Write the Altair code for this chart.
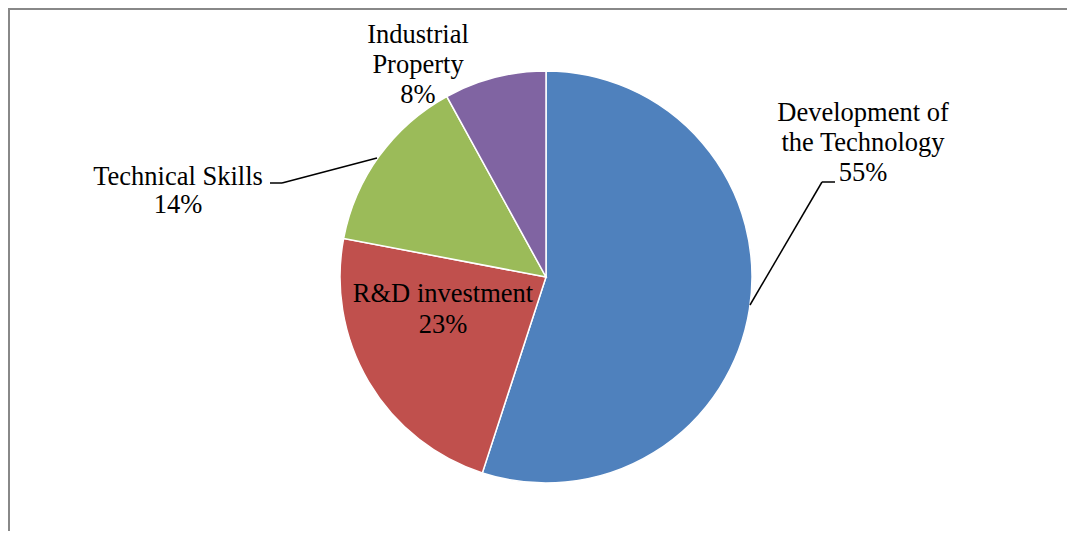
import altair as alt
import pandas as pd

# ---- data ----
categories = ["Development of the Technology", "R&D investment", "Technical Skills", "Industrial Property"]
values = [55, 23, 14, 8]
label_lines = [["Development of", "the Technology"], ["R&D investment"], ["Technical Skills"], ["Industrial", "Property"]]
colors = ["#4F81BD", "#C0504D", "#9BBB59", "#8064A2"]

# ---- layout (chart-pixel coordinates, separate from data) ----
W, H = 1055, 519
CX, CY, R = 536, 267, 206
FONT = "Liberation Serif"
FS = 26.5
label_pos = {  # x (center), y (first baseline), line height
    "Development of the Technology": (853, 111, 30),
    "R&D investment": (433, 292, 31),
    "Technical Skills": (168, 175, 28),
    "Industrial Property": (408, 33, 30),
}
leaders = [
    [(740, 295), (812, 172), (825, 172)],
    [(260, 173), (272, 173), (367, 148)],
]

df = pd.DataFrame({"category": categories, "value": values, "idx": list(range(len(values)))})

pie = alt.Chart(df).mark_arc(outerRadius=R, stroke="white", strokeWidth=1.5).encode(
    theta=alt.Theta("value:Q", stack=True),
    color=alt.Color("category:N", scale=alt.Scale(domain=categories, range=colors), legend=None),
    order=alt.Order("idx:Q"),
    x=alt.value(CX),
    y=alt.value(CY),
)

layers = [pie]
for cat, v, lines in zip(categories, values, label_lines):
    lx, ly, lh = label_pos[cat]
    txt = "\n".join(lines + [f"{v}%"])
    layers.append(
        alt.Chart(df).mark_text(
            font=FONT, fontSize=FS, color="black", align="center", baseline="alphabetic",
            lineBreak="\n", lineHeight=lh,
        ).encode(x=alt.value(lx), y=alt.value(ly), text=alt.value(txt))
        .transform_filter(alt.datum.category == cat)
    )

for pts in leaders:
    for (x1, y1), (x2, y2) in zip(pts[:-1], pts[1:]):
        layers.append(
            alt.Chart(df).mark_rule(color="black", strokeWidth=1.5).encode(
                x=alt.value(x1), y=alt.value(y1), x2=alt.value(x2), y2=alt.value(y2)
            ).transform_filter(alt.datum.idx == 0)
        )

# frame (top and left edges visible)
layers.append(alt.Chart(df).mark_rule(color="#888888", strokeWidth=3).encode(
    x=alt.value(-3), x2=alt.value(W + 3), y=alt.value(-1.5)).transform_filter(alt.datum.idx == 0))
layers.append(alt.Chart(df).mark_rule(color="#888888", strokeWidth=3).encode(
    x=alt.value(-1.5), y=alt.value(-3), y2=alt.value(H + 3)).transform_filter(alt.datum.idx == 0))

chart = alt.layer(*layers).properties(
    width=W, height=H,
    autosize=alt.AutoSizeParams(type="none"),
    padding={"left": 2, "top": 2, "right": 2, "bottom": 2},
).configure_view(stroke=None)

chart.save("out.html", embed_options={"renderer": "svg", "actions": False})
